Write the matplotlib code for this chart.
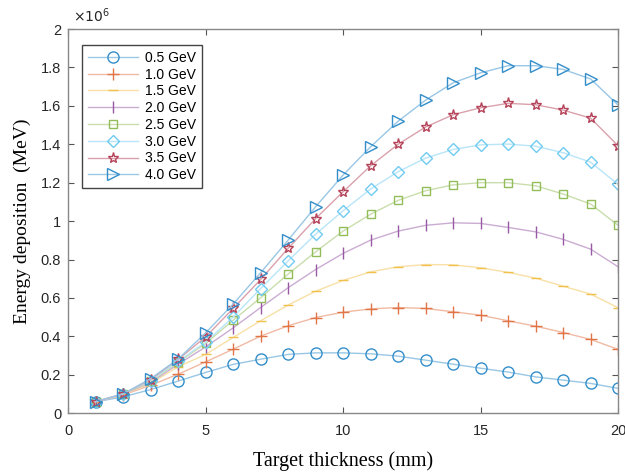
import numpy as np
import matplotlib
matplotlib.use("Agg")
import matplotlib.pyplot as plt
from matplotlib.ticker import FuncFormatter
from matplotlib.colors import to_rgb

# 靶厚 (mm)
thickness = list(range(1, 21))

# 各束流能量下的能量沉积 (单位 10^6 MeV)
e_05 = [0.059, 0.085, 0.123, 0.167, 0.212, 0.254, 0.281, 0.306, 0.314, 0.314,
        0.309, 0.297, 0.276, 0.255, 0.234, 0.214, 0.189, 0.172, 0.155, 0.129]
e_10 = [0.060, 0.095, 0.145, 0.203, 0.267, 0.333, 0.401, 0.455, 0.498, 0.526,
        0.543, 0.550, 0.545, 0.528, 0.510, 0.481, 0.453, 0.420, 0.384, 0.332]
e_15 = [0.060, 0.098, 0.155, 0.241, 0.306, 0.394, 0.481, 0.563, 0.635, 0.691,
        0.736, 0.762, 0.774, 0.772, 0.757, 0.733, 0.703, 0.661, 0.620, 0.549]
e_20 = [0.060, 0.100, 0.160, 0.255, 0.345, 0.444, 0.550, 0.653, 0.748, 0.832,
        0.901, 0.948, 0.978, 0.991, 0.988, 0.967, 0.944, 0.905, 0.854, 0.762]
e_25 = [0.060, 0.100, 0.165, 0.265, 0.363, 0.484, 0.601, 0.724, 0.840, 0.948,
        1.036, 1.108, 1.158, 1.189, 1.200, 1.200, 1.184, 1.141, 1.089, 0.978]
e_30 = [0.060, 0.100, 0.170, 0.270, 0.370, 0.500, 0.649, 0.793, 0.932, 1.054,
        1.167, 1.257, 1.328, 1.373, 1.397, 1.401, 1.390, 1.356, 1.307, 1.191]
e_35 = [0.060, 0.100, 0.175, 0.280, 0.397, 0.545, 0.696, 0.858, 1.013, 1.153,
        1.288, 1.400, 1.490, 1.554, 1.590, 1.613, 1.606, 1.578, 1.536, 1.392]
e_40 = [0.060, 0.100, 0.180, 0.282, 0.418, 0.568, 0.731, 0.901, 1.075, 1.240,
        1.387, 1.520, 1.630, 1.720, 1.772, 1.809, 1.809, 1.790, 1.740, 1.604]

labels = ["0.5 GeV", "1.0 GeV", "1.5 GeV", "2.0 GeV",
          "2.5 GeV", "3.0 GeV", "3.5 GeV", "4.0 GeV"]
series = [e_05, e_10, e_15, e_20, e_25, e_30, e_35, e_40]

# MATLAB 默认配色
colors = ["#0072BD", "#D95319", "#EDB120", "#7E2F8E",
          "#77AC30", "#4DBEEE", "#A2142F", "#0072BD"]
markers = ["o", "+", "_", "|", "s", "D", "*", ">"]
msizes = [8, 8, 7, 8, 6, 6, 8, 8]


def lighten(c, amount=0.55):
    r, g, b = to_rgb(c)
    return (r + (1 - r) * amount, g + (1 - g) * amount, b + (1 - b) * amount)


fig = plt.figure(figsize=(6.25, 4.76), dpi=100)
ax = fig.add_axes([0.109, 0.132, 0.880, 0.807])

for y, lab, c, m, ms in zip(series, labels, colors, markers, msizes):
    ax.plot(thickness, y, color=lighten(c, 0.6), lw=1.0, marker=m, ms=ms,
            mec=lighten(c, 0.2), mfc="none", mew=1.0, label=lab)

ax.set_xlim(0, 20)
ax.set_ylim(0, 2)
ax.set_xticks([0, 5, 10, 15, 20])
ax.set_yticks(np.arange(0, 2.01, 0.2))
ax.yaxis.set_major_formatter(FuncFormatter(lambda v, p: f"{v:g}"))

tick_font = "Liberation Sans"
for t in ax.get_xticklabels() + ax.get_yticklabels():
    t.set_fontfamily(tick_font)
    t.set_fontsize(10.5)
ax.tick_params(direction="in", top=True, right=True, length=4,
               color="#555555", labelcolor="#262626")
ax.tick_params(axis="x", pad=8)
ax.tick_params(axis="y", pad=5)
for s in ax.spines.values():
    s.set_color("#888888")
    s.set_linewidth(1.0)

ax.text(0.008, 1.01, r"$\times10^{6}$", transform=ax.transAxes,
        fontsize=10, color="#262626", ha="left", va="bottom",
        family=tick_font)

ax.set_xlabel("Target thickness (mm)", family="Liberation Serif",
              fontsize=14.5, labelpad=9)
ax.set_ylabel("Energy deposition  (MeV)", family="Liberation Serif",
              fontsize=14, labelpad=7)

leg = ax.legend(loc="upper left", bbox_to_anchor=(0.026, 0.958),
                borderaxespad=0,
                prop={"family": tick_font, "size": 10},
                handlelength=3.6, labelspacing=0.2, borderpad=0.4,
                handletextpad=0.5, fancybox=False, framealpha=1)
leg.get_frame().set_edgecolor("#444444")
leg.get_frame().set_linewidth(1.0)

fig.savefig("out.png", dpi=100)
